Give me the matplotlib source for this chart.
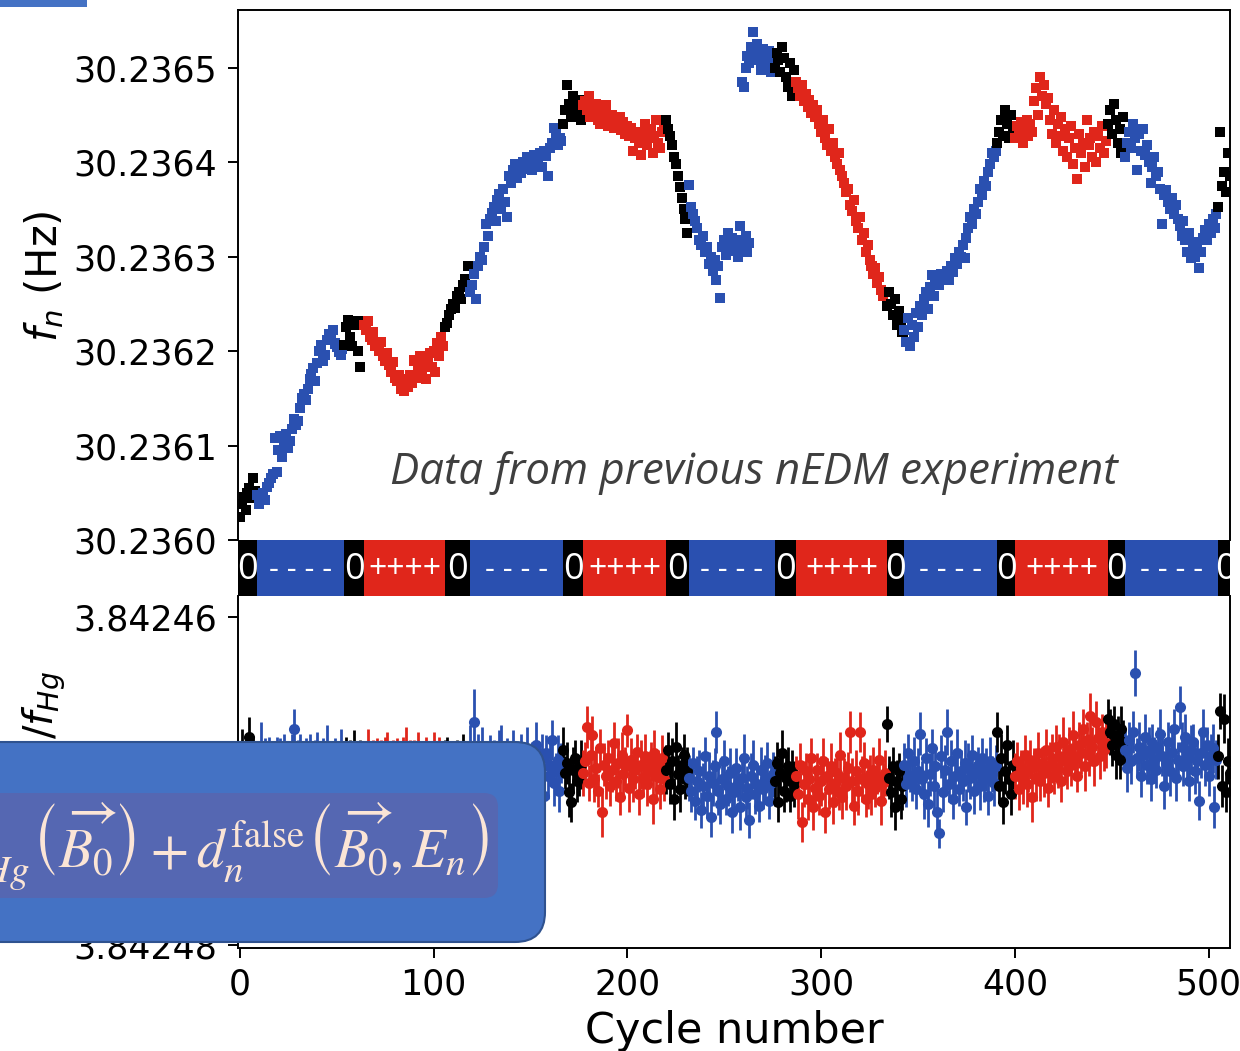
import numpy as np
import matplotlib
matplotlib.use("Agg")
import matplotlib.pyplot as plt
from matplotlib.patches import FancyBboxPatch, Rectangle
from matplotlib.transforms import IdentityTransform

# ---------------------------------------------------------------- data
# Electric-field polarity sequence: block edges (cycle number) and state
block_edges = [-1, 9, 54, 64, 106, 119, 167, 177, 220, 232, 276, 287,
               334, 343, 391, 400, 448, 457, 505, 512]
block_states = ['0', '-', '0', '+', '0', '-', '0', '+', '0', '-', '0', '+',
                '0', '-', '0', '+', '0', '-', '0']
state_text = {'0': '0', '-': '- - - -', '+': '++++'}
state_color = {'0': '#000000', '-': '#2A50B0', '+': '#E0261B'}

# Neutron precession frequency f_n (Hz), first run: cycles 0..263
fn_run1 = [
    30.236024, 30.236038, 30.236045, 30.236032, 30.236050, 30.236055, 30.236044, 30.236066, 30.236052, 30.236048,
    30.236038, 30.236045, 30.236050, 30.236042, 30.236056, 30.236060, 30.236066, 30.236070, 30.236108, 30.236072,
    30.236095, 30.236110, 30.236088, 30.236100, 30.236112, 30.236097, 30.236105, 30.236118, 30.236128, 30.236122,
    30.236126, 30.236140, 30.236150, 30.236155, 30.236148, 30.236160, 30.236170, 30.236176, 30.236182, 30.236168,
    30.236187, 30.236200, 30.236206, 30.236190, 30.236196, 30.236212, 30.236218, 30.236214, 30.236222, 30.236208,
    30.236204, 30.236199, 30.236196, 30.236202, 30.236206,
    30.236225, 30.236233, 30.236215, 30.236205, 30.236228, 30.236232, 30.236200, 30.236183, 30.236232,
    30.236228, 30.236222, 30.236232, 30.236215, 30.236212, 30.236220, 30.236205, 30.236208, 30.236200, 30.236210,
    30.236195, 30.236190, 30.236198, 30.236185, 30.236178, 30.236188, 30.236172, 30.236168, 30.236175, 30.236160,
    30.236165, 30.236158, 30.236170, 30.236162, 30.236175, 30.236166, 30.236190, 30.236172, 30.236182, 30.236195,
    30.236178, 30.236185, 30.236170, 30.236192, 30.236198, 30.236183, 30.236200, 30.236178, 30.236208, 30.236195,
    30.236215, 30.236205, 30.236225,
    30.236230, 30.236238, 30.236244, 30.236250, 30.236246, 30.236258, 30.236262, 30.236255, 30.236270, 30.236276,
    30.236268, 30.236290,
    30.236262, 30.236270, 30.236282, 30.236255, 30.236290, 30.236300, 30.236296, 30.236310, 30.236335, 30.236322,
    30.236340, 30.236346, 30.236352, 30.236338, 30.236360, 30.236366, 30.236350, 30.236372, 30.236358, 30.236342,
    30.236385, 30.236378, 30.236392, 30.236398, 30.236383, 30.236395, 30.236388, 30.236400, 30.236393, 30.236405,
    30.236396, 30.236402, 30.236392, 30.236408, 30.236399, 30.236404, 30.236410, 30.236395, 30.236412, 30.236406,
    30.236385, 30.236415, 30.236420, 30.236436, 30.236430, 30.236418, 30.236425, 30.236422,
    30.236440, 30.236455, 30.236482, 30.236462, 30.236448, 30.236470, 30.236458, 30.236452, 30.236466, 30.236445,
    30.236460,
    30.236465, 30.236455, 30.236470, 30.236448, 30.236460, 30.236452, 30.236462, 30.236445, 30.236440, 30.236455,
    30.236448, 30.236460, 30.236438, 30.236442, 30.236450, 30.236436, 30.236445, 30.236440, 30.236448, 30.236434,
    30.236442, 30.236430, 30.236438, 30.236428, 30.236436, 30.236412, 30.236425, 30.236432, 30.236420, 30.236408,
    30.236430, 30.236440, 30.236418, 30.236426, 30.236435, 30.236410, 30.236428, 30.236445, 30.236420, 30.236415,
    30.236432, 30.236440,
    30.236445, 30.236435, 30.236428, 30.236418, 30.236405, 30.236398, 30.236385, 30.236374, 30.236362, 30.236350,
    30.236340, 30.236325,
    30.236376, 30.236352, 30.236345, 30.236338, 30.236330, 30.236318, 30.236312, 30.236322, 30.236305, 30.236310,
    30.236292, 30.236300, 30.236285, 30.236296, 30.236275, 30.236290, 30.236256, 30.236310, 30.236318, 30.236302,
    30.236325, 30.236312, 30.236320, 30.236306, 30.236315, 30.236300, 30.236332, 30.236318, 30.236310, 30.236322,
    30.236305, 30.236314,
]
cycles_run1 = np.arange(0, 264)

# Second run: cycles 259..511
fn_run2 = [
    30.236485, 30.236480, 30.236500, 30.236512, 30.236505, 30.236522, 30.236538, 30.236515, 30.236525, 30.236508,
    30.236498, 30.236520, 30.236512, 30.236505, 30.236518, 30.236495, 30.236510,
    30.236500, 30.236515, 30.236508, 30.236495, 30.236522, 30.236510, 30.236490, 30.236480, 30.236505, 30.236470,
    30.236498, 30.236485,
    30.236478, 30.236470, 30.236482, 30.236465, 30.236472, 30.236458, 30.236466, 30.236452, 30.236460, 30.236448,
    30.236455, 30.236440, 30.236432, 30.236445, 30.236425, 30.236418, 30.236435, 30.236412, 30.236420, 30.236405,
    30.236398, 30.236410, 30.236392, 30.236385, 30.236378, 30.236368, 30.236372, 30.236355, 30.236348, 30.236360,
    30.236338, 30.236330, 30.236342, 30.236318, 30.236325, 30.236305, 30.236312, 30.236296, 30.236290, 30.236282,
    30.236288, 30.236272, 30.236278, 30.236265, 30.236258, 30.236262, 30.236248,
    30.236262, 30.236250, 30.236238, 30.236255, 30.236228, 30.236242, 30.236232, 30.236220,
    30.236222, 30.236210, 30.236235, 30.236205, 30.236228, 30.236215, 30.236240, 30.236225, 30.236248, 30.236238,
    30.236255, 30.236262, 30.236245, 30.236268, 30.236280, 30.236258, 30.236272, 30.236278, 30.236270, 30.236282,
    30.236276, 30.236280, 30.236285, 30.236275, 30.236290, 30.236284, 30.236298, 30.236292, 30.236305, 30.236300,
    30.236312, 30.236298, 30.236320, 30.236330, 30.236342, 30.236335, 30.236350, 30.236345, 30.236358, 30.236372,
    30.236365, 30.236380, 30.236375, 30.236390, 30.236398, 30.236410, 30.236405, 30.236412,
    30.236420, 30.236432, 30.236445, 30.236428, 30.236455, 30.236440, 30.236425, 30.236450, 30.236436,
    30.236425, 30.236438, 30.236430, 30.236442, 30.236420, 30.236435, 30.236445, 30.236428, 30.236440, 30.236432,
    30.236465, 30.236478, 30.236450, 30.236490, 30.236470, 30.236482, 30.236462, 30.236468, 30.236445, 30.236430,
    30.236455, 30.236420, 30.236440, 30.236428, 30.236448, 30.236412, 30.236435, 30.236405, 30.236425, 30.236438,
    30.236398, 30.236415, 30.236382, 30.236430, 30.236410, 30.236420, 30.236395, 30.236445, 30.236418, 30.236425,
    30.236405, 30.236432, 30.236400, 30.236428, 30.236415, 30.236438, 30.236410, 30.236422,
    30.236440, 30.236455, 30.236430, 30.236462, 30.236445, 30.236420, 30.236435, 30.236410, 30.236448,
    30.236405, 30.236420, 30.236432, 30.236415, 30.236440, 30.236425, 30.236392, 30.236430, 30.236412, 30.236435,
    30.236408, 30.236418, 30.236400, 30.236378, 30.236395, 30.236405, 30.236385, 30.236390, 30.236372, 30.236335,
    30.236365, 30.236370, 30.236358, 30.236350, 30.236362, 30.236345, 30.236355, 30.236340, 30.236332, 30.236322,
    30.236338, 30.236318, 30.236305, 30.236325, 30.236298, 30.236315, 30.236300, 30.236310, 30.236288, 30.236305,
    30.236320, 30.236328, 30.236318, 30.236335, 30.236325, 30.236340, 30.236330, 30.236345,
    30.236352, 30.236432, 30.236375, 30.236390, 30.236368, 30.236410, 30.236385,
]
cycles_run2 = np.arange(259, 512)

# Frequency ratio f_n / f_Hg, one value per cycle 0..511
ratio = [
    3.8424690, 3.8424682, 3.8424697, 3.8424688, 3.8424700, 3.8424673, 3.8424694, 3.8424686, 3.8424703,
    3.8424688, 3.8424695, 3.8424679, 3.8424701, 3.8424686, 3.8424692, 3.8424683, 3.8424698, 3.8424690, 3.8424705,
    3.8424684, 3.8424693, 3.8424687, 3.8424699, 3.8424681, 3.8424694, 3.8424689, 3.8424702, 3.8424685, 3.8424668,
    3.8424696, 3.8424690, 3.8424683, 3.8424700, 3.8424692, 3.8424687, 3.8424697, 3.8424681, 3.8424693, 3.8424704,
    3.8424688, 3.8424684, 3.8424699, 3.8424691, 3.8424686, 3.8424695, 3.8424680, 3.8424702, 3.8424689, 3.8424694,
    3.8424685, 3.8424698, 3.8424690, 3.8424683, 3.8424696,
    3.8424692, 3.8424684, 3.8424699, 3.8424688, 3.8424695, 3.8424681, 3.8424703, 3.8424690, 3.8424686, 3.8424697,
    3.8424689, 3.8424696, 3.8424683, 3.8424701, 3.8424692, 3.8424687, 3.8424698, 3.8424684, 3.8424694, 3.8424690,
    3.8424703, 3.8424686, 3.8424681, 3.8424697, 3.8424693, 3.8424688, 3.8424700, 3.8424684, 3.8424695, 3.8424691,
    3.8424686, 3.8424699, 3.8424682, 3.8424694, 3.8424689, 3.8424705, 3.8424687, 3.8424692, 3.8424683, 3.8424698,
    3.8424690, 3.8424695, 3.8424685, 3.8424700, 3.8424688, 3.8424693, 3.8424684, 3.8424697, 3.8424690, 3.8424686,
    3.8424701, 3.8424693,
    3.8424690, 3.8424684, 3.8424697, 3.8424688, 3.8424702, 3.8424693, 3.8424686, 3.8424699, 3.8424691, 3.8424685,
    3.8424696, 3.8424689, 3.8424694,
    3.8424680, 3.8424692, 3.8424664, 3.8424699, 3.8424686, 3.8424694, 3.8424681, 3.8424703, 3.8424689, 3.8424696,
    3.8424684, 3.8424700, 3.8424690, 3.8424687, 3.8424697, 3.8424683, 3.8424679, 3.8424705, 3.8424691, 3.8424686,
    3.8424699, 3.8424693, 3.8424680, 3.8424688, 3.8424702, 3.8424695, 3.8424684, 3.8424707, 3.8424690, 3.8424681,
    3.8424697, 3.8424711, 3.8424688, 3.8424694, 3.8424678, 3.8424703, 3.8424692, 3.8424686, 3.8424709, 3.8424683,
    3.8424697, 3.8424690, 3.8424675, 3.8424701, 3.8424694, 3.8424687, 3.8424706, 3.8424689,
    3.8424681, 3.8424695, 3.8424689, 3.8424707, 3.8424713, 3.8424693, 3.8424686, 3.8424700, 3.8424697, 3.8424690,
    3.8424695, 3.8424688, 3.8424667, 3.8424701, 3.8424684, 3.8424672, 3.8424699, 3.8424692, 3.8424706, 3.8424680,
    3.8424719, 3.8424690, 3.8424697, 3.8424686, 3.8424703, 3.8424693, 3.8424677, 3.8424700, 3.8424689, 3.8424710,
    3.8424684, 3.8424696, 3.8424691, 3.8424669, 3.8424704, 3.8424687, 3.8424699, 3.8424693, 3.8424682, 3.8424708,
    3.8424690, 3.8424698, 3.8424685, 3.8424702, 3.8424694, 3.8424688, 3.8424711, 3.8424683, 3.8424697, 3.8424691,
    3.8424705, 3.8424686, 3.8424699,
    3.8424693, 3.8424681, 3.8424702, 3.8424688, 3.8424711, 3.8424679, 3.8424696, 3.8424705, 3.8424690, 3.8424684,
    3.8424699, 3.8424694,
    3.8424698, 3.8424706, 3.8424689, 3.8424712, 3.8424700, 3.8424694, 3.8424718, 3.8424703, 3.8424685, 3.8424709,
    3.8424697, 3.8424722, 3.8424701, 3.8424691, 3.8424670, 3.8424706, 3.8424714, 3.8424699, 3.8424688, 3.8424711,
    3.8424703, 3.8424695, 3.8424719, 3.8424707, 3.8424692, 3.8424701, 3.8424716, 3.8424698, 3.8424686, 3.8424710,
    3.8424704, 3.8424724, 3.8424697, 3.8424690, 3.8424708, 3.8424702, 3.8424715, 3.8424693, 3.8424705, 3.8424699,
    3.8424689, 3.8424712, 3.8424701, 3.8424696,
    3.8424700, 3.8424689, 3.8424713, 3.8424695, 3.8424683, 3.8424706, 3.8424698, 3.8424691, 3.8424709, 3.8424694,
    3.8424702,
    3.8424697, 3.8424708, 3.8424690, 3.8424725, 3.8424702, 3.8424694, 3.8424711, 3.8424699, 3.8424686, 3.8424716,
    3.8424704, 3.8424693, 3.8424709, 3.8424700, 3.8424688, 3.8424719, 3.8424697, 3.8424705, 3.8424691, 3.8424713,
    3.8424701, 3.8424695, 3.8424707, 3.8424684, 3.8424710, 3.8424698, 3.8424703, 3.8424692, 3.8424670, 3.8424700,
    3.8424715, 3.8424694, 3.8424706, 3.8424670, 3.8424699, 3.8424689, 3.8424711, 3.8424702, 3.8424696, 3.8424708,
    3.8424693, 3.8424704, 3.8424698, 3.8424687, 3.8424712, 3.8424701, 3.8424695,
    3.8424665, 3.8424698, 3.8424707, 3.8424691, 3.8424716, 3.8424700, 3.8424694, 3.8424711, 3.8424703,
    3.8424690, 3.8424702, 3.8424683, 3.8424697, 3.8424699, 3.8424688, 3.8424705, 3.8424694, 3.8424671, 3.8424699,
    3.8424708, 3.8424686, 3.8424714, 3.8424696, 3.8424680, 3.8424703, 3.8424691, 3.8424719, 3.8424732, 3.8424685,
    3.8424707, 3.8424693, 3.8424670, 3.8424702, 3.8424688, 3.8424711, 3.8424697, 3.8424683, 3.8424705, 3.8424694,
    3.8424700, 3.8424689, 3.8424716, 3.8424692, 3.8424698, 3.8424684, 3.8424706, 3.8424695, 3.8424690, 3.8424703,
    3.8424686, 3.8424699, 3.8424693, 3.8424709, 3.8424688, 3.8424696, 3.8424701, 3.8424691,
    3.8424670, 3.8424703, 3.8424686, 3.8424713, 3.8424694, 3.8424678, 3.8424699, 3.8424708, 3.8424690,
    3.8424697, 3.8424688, 3.8424705, 3.8424692, 3.8424699, 3.8424684, 3.8424702, 3.8424694, 3.8424687, 3.8424710,
    3.8424691, 3.8424698, 3.8424683, 3.8424700, 3.8424689, 3.8424695, 3.8424681, 3.8424704, 3.8424690, 3.8424686,
    3.8424697, 3.8424679, 3.8424692, 3.8424685, 3.8424700, 3.8424676, 3.8424688, 3.8424694, 3.8424681, 3.8424690,
    3.8424672, 3.8424686, 3.8424697, 3.8424678, 3.8424683, 3.8424668, 3.8424691, 3.8424675, 3.8424684, 3.8424660,
    3.8424679, 3.8424688, 3.8424664, 3.8424674, 3.8424685, 3.8424670, 3.8424681, 3.8424677,
    3.8424662, 3.8424670, 3.8424678, 3.8424665, 3.8424684, 3.8424673, 3.8424687, 3.8424668, 3.8424676,
    3.8424681, 3.8424692, 3.8424675, 3.8424688, 3.8424670, 3.8424634, 3.8424686, 3.8424679, 3.8424697, 3.8424684,
    3.8424673, 3.8424690, 3.8424682, 3.8424699, 3.8424677, 3.8424687, 3.8424693, 3.8424680, 3.8424671, 3.8424685,
    3.8424703, 3.8424689, 3.8424676, 3.8424694, 3.8424682, 3.8424668, 3.8424698, 3.8424687, 3.8424655, 3.8424679,
    3.8424691, 3.8424673, 3.8424686, 3.8424700, 3.8424681, 3.8424676, 3.8424694, 3.8424688, 3.8424712, 3.8424683,
    3.8424670, 3.8424690, 3.8424678, 3.8424697, 3.8424685, 3.8424680, 3.8424716, 3.8424687,
    3.8424685, 3.8424657, 3.8424703, 3.8424662, 3.8424707, 3.8424688, 3.8424695,
]
cycles_ratio = np.arange(0, 512)

# Uncertainty of each ratio point, in units of 1e-7
ratio_err_e7 = [
    12, 14, 11, 13, 15, 12, 10, 13, 14, 12, 11, 15, 13, 12, 14, 10, 13, 12, 15, 11, 14, 13, 12, 10, 15, 13, 11, 14, 12, 13, 15, 12,
    11, 14, 13, 12, 10, 15, 12, 13, 14, 11, 13, 12, 15, 14, 10, 12, 13, 11, 14, 12, 15, 13, 12, 11, 14, 13, 10, 12, 15, 13, 11, 14,
    13, 12, 15, 11, 14, 12, 13, 10, 14, 15, 12, 13, 11, 14, 12, 13, 15, 10, 12, 14, 13, 11, 15, 12, 14, 13, 12, 11, 13, 15, 12, 14,
    12, 13, 11, 15, 14, 12, 10, 13, 14, 12, 15, 11, 13, 12, 14, 13, 11, 15, 12, 14, 13, 10, 12, 14, 11, 20, 13, 15, 12, 14, 13, 11,
    14, 12, 13, 15, 11, 12, 14, 13, 10, 15, 12, 14, 13, 11, 12, 15, 14, 13, 12, 10, 14, 13, 15, 12, 11, 14, 13, 12, 15, 13, 11, 14,
    13, 12, 14, 11, 15, 13, 12, 14, 10, 13, 15, 12, 14, 11, 13, 12, 15, 14, 12, 13, 11, 15, 12, 14, 13, 10, 12, 15, 13, 14, 11, 12,
    14, 13, 12, 15, 11, 14, 13, 12, 10, 15, 13, 14, 12, 11, 13, 15, 12, 14, 13, 11, 12, 15, 14, 13, 10, 12, 14, 13, 15, 11, 12, 14,
    13, 15, 12, 14, 11, 13, 12, 15, 14, 13, 10, 12, 15, 13, 11, 14, 12, 13, 15, 12, 14, 11, 13, 15, 12, 14, 13, 10, 12, 15, 13, 14,
    12, 11, 14, 13, 15, 12, 13, 11, 14, 15, 12, 13, 10, 14, 12, 15, 13, 11, 12, 14, 15, 13, 12, 11, 14, 13, 15, 12, 10, 13, 14, 12,
    15, 13, 12, 14, 11, 13, 15, 12, 14, 13, 10, 12, 15, 14, 13, 11, 12, 14, 13, 15, 12, 11, 14, 13, 12, 15, 10, 13, 14, 12, 13, 15,
    12, 14, 13, 11, 15, 12, 13, 14, 12, 10, 13, 15, 12, 14, 11, 13, 15, 12, 14, 13, 11, 12, 15, 13, 14, 12, 10, 13, 15, 12, 14, 13,
    11, 15, 12, 14, 13, 12, 15, 11, 14, 9, 13, 12, 15, 14, 11, 13, 12, 14, 15, 10, 13, 12, 14, 11, 15, 13, 12, 14, 13, 11, 15, 12,
    14, 13, 12, 15, 11, 14, 13, 12, 10, 15, 13, 14, 12, 11, 13, 15, 14, 12, 13, 11, 15, 12, 14, 13, 12, 15, 11, 14, 13, 12, 10, 15,
    13, 12, 14, 15, 11, 13, 12, 14, 13, 15, 12, 11, 14, 13, 15, 12, 10, 14, 13, 12, 15, 11, 13, 14, 12, 15, 13, 12, 14, 11, 13, 15,
    12, 14, 13, 11, 15, 13, 12, 14, 13, 12, 15, 11, 14, 13, 14, 12, 15, 13, 11, 14, 12, 15, 13, 12, 14, 11, 13, 15, 12, 14, 13, 12,
    15, 13, 12, 14, 11, 13, 15, 12, 14, 13, 12, 15, 11, 14, 13, 12, 15, 14, 13, 11, 12, 14, 15, 13, 12, 14, 11, 13, 15, 12, 14, 13,
]

assert len(fn_run1) == len(cycles_run1), len(fn_run1)
assert len(fn_run2) == len(cycles_run2), len(fn_run2)
assert len(ratio) == len(cycles_ratio), len(ratio)
assert len(ratio_err_e7) == len(cycles_ratio), len(ratio_err_e7)

top_yticks = [30.2360, 30.2361, 30.2362, 30.2363, 30.2364, 30.2365]
bot_yticks = [3.84246, 3.84247, 3.84248]
xticks = [0, 100, 200, 300, 400, 500]

formula = (r"$d_{n\leftarrow Hg}^{\mathrm{false}}\left(\overrightarrow{B_0}\right)"
           r"+d_n^{\mathrm{false}}\left(\overrightarrow{B_0},E_n\right)$")

# ---------------------------------------------------------------- figure
W, H = 1240, 1051
fig = plt.figure(figsize=(W / 100, H / 100), dpi=100)
plt.rcParams['font.family'] = ['DejaVu Sans']


def fx(px):
    return px / W


def fy(py):
    return 1 - py / H


left, right = 238, 1230
ax_top = fig.add_axes([fx(left), fy(540), fx(right) - fx(left), fy(10) - fy(540)])
ax_mid = fig.add_axes([fx(left), fy(596), fx(right) - fx(left), fy(540) - fy(596)])
ax_bot = fig.add_axes([fx(left), fy(948), fx(right) - fx(left), fy(596) - fy(948)])

xlim = (-0.9, 511)
edges = np.array(block_edges)


def state_of(cycles):
    idx = np.searchsorted(edges, cycles, side='right') - 1
    idx = np.clip(idx, 0, len(block_states) - 1)
    return [block_states[i] for i in idx]


# top panel: f_n
for cyc, vals in ((cycles_run1, fn_run1), (cycles_run2, fn_run2)):
    cols = [state_color[s] for s in state_of(cyc)]
    ax_top.scatter(cyc, vals, c=cols, marker='s', s=52, linewidths=0)
ax_top.set_xlim(*xlim)
ax_top.set_ylim(30.2360, 30.236561)
ax_top.set_yticks(top_yticks)
ax_top.set_yticklabels([f"{v:.4f}" for v in top_yticks])
ax_top.set_xticks([])
ax_top.spines['bottom'].set_visible(False)
ax_top.tick_params(axis='y', labelsize=25, length=7, width=1.4, pad=8)
for sp in ax_top.spines.values():
    sp.set_linewidth(1.4)

fig.text(fx(390), fy(484), "Data from previous nEDM experiment",
         family='Open Sans', style='italic', fontsize=31.5, color='#3F3F3F',
         ha='left', va='baseline')

# middle strip: polarity sequence
starts = edges[:-1]
widths = np.diff(edges)
ax_mid.bar(starts, 1, width=widths, bottom=0, align='edge',
           color=[state_color[s] for s in block_states], linewidth=0)
state_size = {'0': 26, '-': 22, '+': 23}
for s0, w, st in zip(starts, widths, block_states):
    ax_mid.text(s0 + w / 2, 0.47, state_text[st], ha='center', va='center',
                color='white', fontsize=state_size[st], family='Open Sans',
                clip_on=True)
ax_mid.set_xlim(*xlim)
ax_mid.set_ylim(0, 1)
ax_mid.axis('off')

# bottom panel: ratio with error bars
ratio_arr = np.array(ratio)
err_arr = np.array(ratio_err_e7) * 1e-7
for i, st in enumerate(block_states):
    m = (cycles_ratio >= edges[i]) & (cycles_ratio < edges[i + 1])
    ax_bot.errorbar(cycles_ratio[m], ratio_arr[m], yerr=err_arr[m], fmt='o',
                    color=state_color[st], ms=8, mew=0, elinewidth=2.0,
                    capsize=0)
ax_bot.set_xlim(*xlim)
ax_bot.set_ylim(3.8424802, 3.8424587)
ax_bot.set_yticks(bot_yticks)
ax_bot.set_yticklabels([f"{v:.5f}" for v in bot_yticks])
ax_bot.set_xticks(xticks)
ax_bot.spines['top'].set_visible(False)
for sp in ax_bot.spines.values():
    sp.set_linewidth(1.4)
ax_bot.tick_params(axis='both', labelsize=25, length=7, width=1.4)
ax_bot.tick_params(axis='y', pad=8)
ax_bot.tick_params(axis='x', pad=7)
ax_bot.set_xlabel("Cycle number", fontsize=31, labelpad=6)

# axis titles
fig.text(fx(44), fy(276), r"$f_n$ (Hz)", rotation=90, ha='center',
         va='center', fontsize=30)
fig.text(fx(45), fy(722), r"$f_n/f_{Hg}$", rotation=90, ha='center',
         va='center', fontsize=29, zorder=3)

# formula call-out
pix = IdentityTransform()
outer = FancyBboxPatch((-40, H - 942), 585, 200,
                       boxstyle="round,pad=0,rounding_size=30",
                       transform=pix, facecolor='#4472C4',
                       edgecolor='#2F528F', linewidth=1.5, zorder=10)
fig.add_artist(outer)
inner = FancyBboxPatch((-20, H - 898), 518, 105,
                       boxstyle="round,pad=0,rounding_size=14",
                       transform=pix, facecolor='#5567B2',
                       edgecolor='none', zorder=11)
fig.add_artist(inner)
fig.text(489, H - 847, formula, transform=pix, ha='right', va='center',
         fontsize=40, color='#FBE5D6', math_fontfamily='stix', zorder=12)

fig.add_artist(Rectangle((0, H - 7), 87, 7, transform=pix,
                         facecolor='#4472C4', edgecolor='none', zorder=10))

fig.savefig("out.png", dpi=100)
